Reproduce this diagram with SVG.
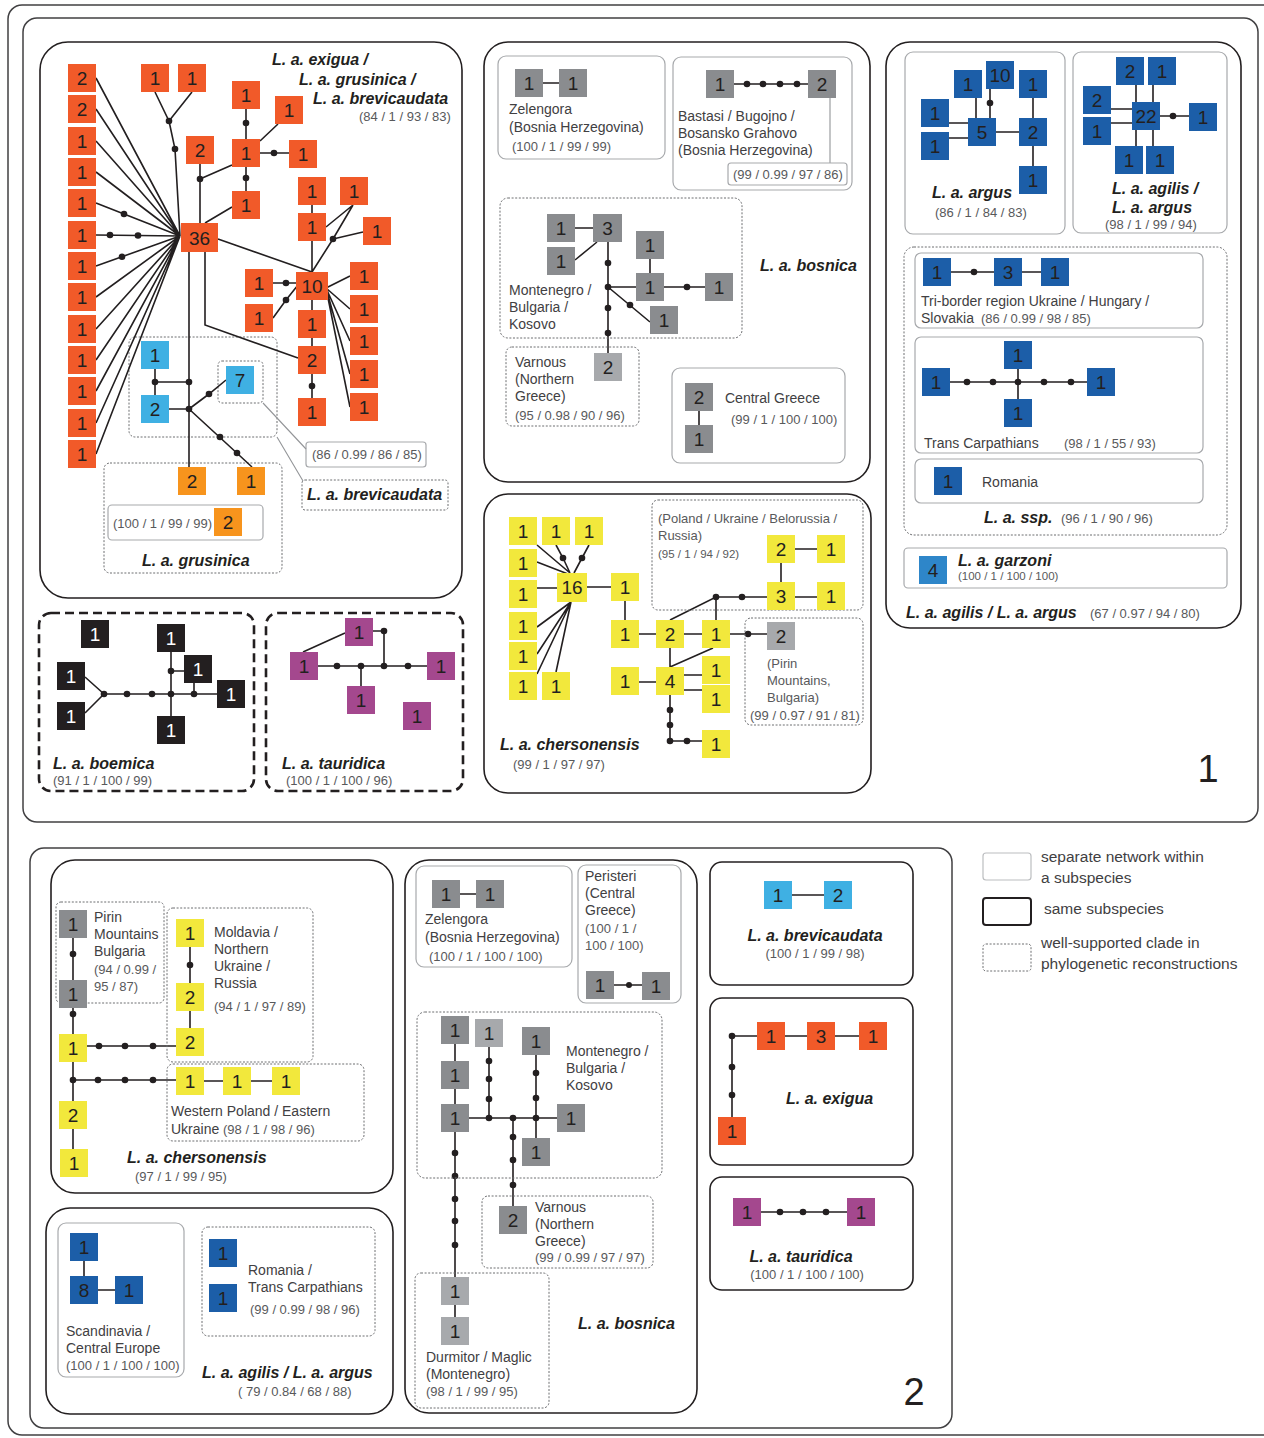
<svg xmlns="http://www.w3.org/2000/svg" width="1264" height="1438" viewBox="0 0 1264 1438">
<style>
text{font-family:"Liberation Sans",Arial,sans-serif}
.ln{stroke:#231f20;stroke-width:1.6;fill:none}
.gln{stroke:#939598;stroke-width:1.1;fill:none}
.dots circle{fill:#231f20}
.o{fill:#f15a29}.lo{fill:#f7941d}.lb{fill:#3fb0e3}.db{fill:#1c5ea8}.mb{fill:#2e86c9}.g{fill:#8a8c8f}.gl{fill:#a7a9ac}.y{fill:#f2e83c}.k{fill:#231f20}.p{fill:#a4488e}
.n{font-size:19px;text-anchor:middle;fill:#231f20}
.nw{fill:#ffffff}
.sp{font-size:16px;font-weight:bold;font-style:italic;fill:#231f20}
.lab{font-size:14px;fill:#414042}
.sup{font-size:13px;fill:#58595b}
.sm{font-size:11.5px;fill:#58595b}
.frame{fill:none;stroke:#414042;stroke-width:1.5}
.ss{fill:none;stroke:#231f20;stroke-width:1.6}
.sep{fill:none;stroke:#a7a9ac;stroke-width:1.2}
.cl{fill:none;stroke:#6d6e71;stroke-width:1;stroke-dasharray:2 1.6}
.dash{fill:none;stroke:#231f20;stroke-width:2.6;stroke-dasharray:9 5}
.leg{font-size:15.5px;fill:#414042}
.big{font-size:38px;fill:#231f20;text-anchor:middle}
</style>

<g id="frames">
<rect class="frame" x="8" y="5" width="1275" height="1430" rx="14"/>
<rect class="frame" x="23" y="18" width="1235" height="804" rx="14"/>
<rect class="frame" x="30" y="848" width="922" height="580" rx="14"/>
<text class="big" x="1208" y="782">1</text>
<text class="big" x="914" y="1405">2</text>
</g>

<g id="panelA">
<rect class="ss" x="40" y="42" width="422" height="556" rx="28"/>
<rect class="cl" x="129" y="337" width="148" height="100" rx="6"/>
<rect class="cl" x="218" y="361" width="45" height="42" rx="4"/>
<rect class="cl" x="104" y="463" width="178" height="110" rx="6"/>
<rect class="sep" x="108" y="505" width="155" height="35" rx="4"/>
<rect class="sep" x="306" y="442" width="120" height="25" rx="3"/>
<rect class="cl" x="302" y="480" width="146" height="30" rx="3"/>
<text class="sp" x="272" y="65">L. a. exigua /</text>
<text class="sp" x="299" y="85">L. a. grusinica /</text>
<text class="sp" x="313" y="104">L. a. brevicaudata</text>
<text class="sup" x="359" y="121">(84 / 1 / 93 / 83)</text>
<text class="sup" x="113" y="528">(100 / 1 / 99 / 99)</text>
<text class="sp" x="142" y="566">L. a. grusinica</text>
<text class="sup" x="312" y="459">(86 / 0.99 / 86 / 85)</text>
<text class="sp" x="307" y="500">L. a. brevicaudata</text>
</g>

<g id="connectors">
<path class="gln" d="M263 403L306 449M277 437L303 481M830 98V163"/>
<path class="ln" d="M96 78L180 236M96 109L180 236M96 141L180 236M96 172L180 236M96 203L180 236M96 235L180 236M96 266L180 236M96 297L180 236M96 329L180 236M96 360L180 236M96 391L180 236M96 423L180 236M96 454L180 236
M155 92L169 121L192 92M169 121L175 149L180 236
M200 164V223M200 179L232 165
M246 109V139M260 141L278 124M260 153H289M246 167V191M232 207L205 223
M218 239L312 272
M312 205V213M312 241V272M326 227L353 205M312 272L333 239L353 205M333 239L363 232
M273 283H298M273 318L286 300L298 285
M312 300V310M312 338V346M312 374V398
M326 288L350 276M326 288L350 309M326 288L350 341M326 288L350 374M326 288L350 407
M205 252V325L298 358
M189 252V467
M155 369V395M155 382H189M169 409H189M189 409L209 394L226 380M189 409L252 467"/>
<g class="dots">
<circle cx="124" cy="214" r="3.3"/><circle cx="110" cy="235" r="3.3"/><circle cx="138" cy="235.5" r="3.3"/><circle cx="122" cy="256.7" r="3.3"/>
<circle cx="169" cy="121" r="3.3"/><circle cx="175" cy="149" r="3.3"/><circle cx="200" cy="179" r="3.3"/>
<circle cx="246" cy="123" r="3.3"/><circle cx="274" cy="153" r="3.3"/><circle cx="246" cy="178" r="3.3"/>
<circle cx="333" cy="239" r="3.3"/><circle cx="286" cy="283" r="3.3"/><circle cx="286" cy="300" r="3.3"/><circle cx="312" cy="386" r="3.3"/>
<circle cx="189" cy="382" r="3.3"/><circle cx="189" cy="409" r="3.3"/><circle cx="155" cy="382" r="3.3"/><circle cx="209" cy="394" r="3.3"/><circle cx="220" cy="437" r="3.3"/><circle cx="237" cy="453" r="3.3"/>
</g>

<path class="ln" d="M543 83H559M734 84H808
M575 228H593M575 260L597 242M608 242V353M608 287H636M650 259V273M664 287H705M608 287L650 322
M699 411V425"/>
<g class="dots">
<circle cx="747" cy="84" r="3.3"/><circle cx="763" cy="84" r="3.3"/><circle cx="780" cy="84" r="3.3"/><circle cx="797" cy="84" r="3.3"/>
<circle cx="608" cy="263" r="3.3"/><circle cx="608" cy="287" r="3.3"/><circle cx="608" cy="308" r="3.3"/><circle cx="608" cy="333" r="3.3"/><circle cx="687" cy="287" r="3.3"/><circle cx="630" cy="305" r="3.3"/>
</g>

<path class="ln" d="M996 132H1019M976 98V118M990 89V118M949 123H968M949 138H968M1033 98V118M1033 146V166
M1136 85V102M1153 85V102M1111 109H1132M1111 123H1132M1136 130V146M1153 130V146M1160 116H1189
M951 272H994M1022 272H1041
M950 382H1087M1018 369V399"/>
<g class="dots">
<circle cx="990" cy="103" r="3.3"/><circle cx="1173" cy="116" r="3.3"/><circle cx="974" cy="272" r="3.3"/>
<circle cx="967" cy="382" r="3.3"/><circle cx="993" cy="382" r="3.3"/><circle cx="1018" cy="382" r="3.3"/><circle cx="1044" cy="382" r="3.3"/><circle cx="1071" cy="382" r="3.3"/>
</g>

<path class="ln" d="M104 694H217M85 677L104 694M85 713L104 694M171 652V716M171 671H184M194 694V682
M318 666H427M361 666V686M384 666V631M373 631H384M345 633L303 652"/>
<g class="dots">
<circle cx="104" cy="694" r="3.3"/><circle cx="127" cy="694" r="3.3"/><circle cx="152" cy="694" r="3.3"/><circle cx="171" cy="694" r="3.3"/><circle cx="194" cy="694" r="3.3"/><circle cx="171" cy="671" r="3.3"/>
<circle cx="337" cy="666" r="3.3"/><circle cx="361" cy="666" r="3.3"/><circle cx="384" cy="666" r="3.3"/><circle cx="408" cy="666" r="3.3"/><circle cx="384" cy="631" r="3.3"/>
</g>

<path class="ln" d="M537 545L570 573M556 545L563 558L570 573M589 545L582 558L574 573M537 562L568 574M537 588H557
M571 602L537 627M571 602L537 654M571 602L537 674M571 602L556 672
M587 587H611M625 601V620M639 634H656M684 634H702M670 620L716 597H767M716 597V620M781 563V582M795 549H817M795 597H817M730 634H767
M670 648V667M670 667L713 648M639 682H656M684 675H702M684 690H702M670 695V741H702"/>
<g class="dots">
<circle cx="563" cy="558" r="3.3"/><circle cx="582" cy="558" r="3.3"/><circle cx="716" cy="597" r="3.3"/><circle cx="742" cy="597" r="3.3"/><circle cx="748" cy="634" r="3.3"/>
<circle cx="670" cy="710" r="3.3"/><circle cx="670" cy="725" r="3.3"/><circle cx="670" cy="741" r="3.3"/><circle cx="687" cy="741" r="3.3"/>
</g>

<path class="ln" d="M73 938V980M73 1008V1034M73 1062V1101M73 1128V1149M87 1046H176M73 1080H176M204 1081H223M251 1081H272M190 947V983M190 1011V1028"/>
<g class="dots">
<circle cx="73" cy="954" r="3.3"/><circle cx="73" cy="1014" r="3.3"/><circle cx="73" cy="1080" r="3.3"/>
<circle cx="99" cy="1046" r="3.3"/><circle cx="125" cy="1046" r="3.3"/><circle cx="153" cy="1046" r="3.3"/>
<circle cx="98" cy="1080" r="3.3"/><circle cx="125" cy="1080" r="3.3"/><circle cx="153" cy="1080" r="3.3"/>
<circle cx="190" cy="965" r="3.3"/>
</g>

<path class="ln" d="M84 1261V1276M98 1290H115"/>

<path class="ln" d="M460 894H476M614 985H642
M455 1044V1061M455 1089V1104M455 1132V1277M455 1305V1317M469 1118H557M489 1047V1118M536 1055V1138M513 1118V1206"/>
<g class="dots">
<circle cx="629" cy="985" r="3"/>
<circle cx="455" cy="1153" r="3.3"/><circle cx="455" cy="1176" r="3.3"/><circle cx="455" cy="1199" r="3.3"/><circle cx="455" cy="1221" r="3.3"/><circle cx="455" cy="1245" r="3.3"/>
<circle cx="489" cy="1118" r="3.3"/><circle cx="513" cy="1118" r="3.3"/><circle cx="536" cy="1118" r="3.3"/>
<circle cx="489" cy="1061" r="3.3"/><circle cx="489" cy="1079" r="3.3"/><circle cx="489" cy="1099" r="3.3"/>
<circle cx="536" cy="1073" r="3.3"/><circle cx="536" cy="1098" r="3.3"/>
<circle cx="513" cy="1137" r="3.3"/><circle cx="513" cy="1160" r="3.3"/><circle cx="513" cy="1185" r="3.3"/>
</g>

<path class="ln" d="M792 895H824M732 1036H757M785 1036H807M835 1036H859M732 1036V1117M761 1212H847"/>
<g class="dots">
<circle cx="732" cy="1036" r="3.3"/><circle cx="732" cy="1067" r="3.3"/><circle cx="732" cy="1095" r="3.3"/>
<circle cx="780" cy="1212" r="3.3"/><circle cx="803" cy="1212" r="3.3"/><circle cx="826" cy="1212" r="3.3"/>
</g>
</g>

<g id="nodesA">
<g id="a_l1"><rect class="o" x="68" y="64" width="28" height="28"/><text class="n" x="82" y="85">2</text></g>
<g id="a_l2"><rect class="o" x="68" y="95" width="28" height="28"/><text class="n" x="82" y="116">2</text></g>
<g id="a_l3"><rect class="o" x="68" y="127" width="28" height="28"/><text class="n" x="82" y="148">1</text></g>
<g id="a_l4"><rect class="o" x="68" y="158" width="28" height="28"/><text class="n" x="82" y="179">1</text></g>
<g id="a_l5"><rect class="o" x="68" y="189" width="28" height="28"/><text class="n" x="82" y="210">1</text></g>
<g id="a_l6"><rect class="o" x="68" y="221" width="28" height="28"/><text class="n" x="82" y="242">1</text></g>
<g id="a_l7"><rect class="o" x="68" y="252" width="28" height="28"/><text class="n" x="82" y="273">1</text></g>
<g id="a_l8"><rect class="o" x="68" y="283" width="28" height="28"/><text class="n" x="82" y="304">1</text></g>
<g id="a_l9"><rect class="o" x="68" y="315" width="28" height="28"/><text class="n" x="82" y="336">1</text></g>
<g id="a_l10"><rect class="o" x="68" y="346" width="28" height="28"/><text class="n" x="82" y="367">1</text></g>
<g id="a_l11"><rect class="o" x="68" y="377" width="28" height="28"/><text class="n" x="82" y="398">1</text></g>
<g id="a_l12"><rect class="o" x="68" y="409" width="28" height="28"/><text class="n" x="82" y="430">1</text></g>
<g id="a_l13"><rect class="o" x="68" y="440" width="28" height="28"/><text class="n" x="82" y="461">1</text></g>
<g id="a_t1"><rect class="o" x="141" y="64" width="28" height="28"/><text class="n" x="155" y="85">1</text></g>
<g id="a_t2"><rect class="o" x="178" y="64" width="28" height="28"/><text class="n" x="192" y="85">1</text></g>
<g id="a_2a"><rect class="o" x="186" y="136" width="28" height="28"/><text class="n" x="200" y="157">2</text></g>
<g id="a_c0"><rect class="o" x="232" y="81" width="28" height="28"/><text class="n" x="246" y="102">1</text></g>
<g id="a_c1"><rect class="o" x="275" y="96" width="28" height="28"/><text class="n" x="289" y="117">1</text></g>
<g id="a_c2"><rect class="o" x="232" y="139" width="28" height="28"/><text class="n" x="246" y="160">1</text></g>
<g id="a_c3"><rect class="o" x="289" y="140" width="28" height="28"/><text class="n" x="303" y="161">1</text></g>
<g id="a_c4"><rect class="o" x="232" y="191" width="28" height="28"/><text class="n" x="246" y="212">1</text></g>
<g id="a_36"><rect class="o" x="181" y="223" width="37" height="29"/><text class="n" x="199.5" y="244.5">36</text></g>
<g id="a_u1"><rect class="o" x="298" y="177" width="28" height="28"/><text class="n" x="312" y="198">1</text></g>
<g id="a_u2"><rect class="o" x="340" y="177" width="28" height="28"/><text class="n" x="354" y="198">1</text></g>
<g id="a_u3"><rect class="o" x="298" y="213" width="28" height="28"/><text class="n" x="312" y="234">1</text></g>
<g id="a_u4"><rect class="o" x="363" y="217" width="28" height="28"/><text class="n" x="377" y="238">1</text></g>
<g id="a_10"><rect class="o" x="296" y="272" width="32" height="28"/><text class="n" x="312" y="293">10</text></g>
<g id="a_w1"><rect class="o" x="245" y="269" width="28" height="28"/><text class="n" x="259" y="290">1</text></g>
<g id="a_w2"><rect class="o" x="245" y="304" width="28" height="28"/><text class="n" x="259" y="325">1</text></g>
<g id="a_d1"><rect class="o" x="298" y="310" width="28" height="28"/><text class="n" x="312" y="331">1</text></g>
<g id="a_d2"><rect class="o" x="298" y="346" width="28" height="28"/><text class="n" x="312" y="367">2</text></g>
<g id="a_d3"><rect class="o" x="298" y="398" width="28" height="28"/><text class="n" x="312" y="419">1</text></g>
<g id="a_r1"><rect class="o" x="350" y="262" width="28" height="28"/><text class="n" x="364" y="283">1</text></g>
<g id="a_r2"><rect class="o" x="350" y="295" width="28" height="28"/><text class="n" x="364" y="316">1</text></g>
<g id="a_r3"><rect class="o" x="350" y="327" width="28" height="28"/><text class="n" x="364" y="348">1</text></g>
<g id="a_r4"><rect class="o" x="350" y="360" width="28" height="28"/><text class="n" x="364" y="381">1</text></g>
<g id="a_r5"><rect class="o" x="350" y="393" width="28" height="28"/><text class="n" x="364" y="414">1</text></g>
<g id="a_b1"><rect class="lb" x="141" y="341" width="28" height="28"/><text class="n" x="155" y="362">1</text></g>
<g id="a_b2"><rect class="lb" x="141" y="395" width="28" height="28"/><text class="n" x="155" y="416">2</text></g>
<g id="a_b7"><rect class="lb" x="226" y="366" width="28" height="28"/><text class="n" x="240" y="387">7</text></g>
<g id="a_g2"><rect class="lo" x="178" y="467" width="28" height="28"/><text class="n" x="192" y="488">2</text></g>
<g id="a_g1"><rect class="lo" x="237" y="467" width="28" height="28"/><text class="n" x="251" y="488">1</text></g>
<g id="a_g3"><rect class="lo" x="214" y="508" width="28" height="28"/><text class="n" x="228" y="529">2</text></g>
</g>

<g id="panelB">
<rect class="ss" x="484" y="42" width="386" height="440" rx="24"/>
<rect class="sep" x="498" y="56" width="167" height="103" rx="8"/>
<rect class="sep" x="673" y="57" width="179" height="133" rx="8"/>
<rect class="sep" x="728" y="163" width="119" height="22" rx="3"/>
<rect class="cl" x="500" y="198" width="242" height="140" rx="8"/>
<rect class="cl" x="506" y="347" width="133" height="79" rx="6"/>
<rect class="sep" x="672" y="368" width="173" height="95" rx="8"/>
<text class="lab" x="509" y="114">Zelengora</text>
<text class="lab" x="509" y="132">(Bosnia Herzegovina)</text>
<text class="sup" x="512" y="151">(100 / 1 / 99 / 99)</text>
<text class="lab" x="678" y="121">Bastasi / Bugojno /</text>
<text class="lab" x="678" y="138">Bosansko Grahovo</text>
<text class="lab" x="678" y="155">(Bosnia Herzegovina)</text>
<text class="sup" x="733" y="179">(99 / 0.99 / 97 / 86)</text>
<text class="lab" x="509" y="295">Montenegro /</text>
<text class="lab" x="509" y="312">Bulgaria /</text>
<text class="lab" x="509" y="329">Kosovo</text>
<text class="lab" x="515" y="367">Varnous</text>
<text class="lab" x="515" y="384">(Northern</text>
<text class="lab" x="515" y="401">Greece)</text>
<text class="sup" x="515" y="420">(95 / 0.98 / 90 / 96)</text>
<text class="sp" x="760" y="271">L. a. bosnica</text>
<text class="lab" x="725" y="403">Central Greece</text>
<text class="sup" x="731" y="424">(99 / 1 / 100 / 100)</text>
<g id="b_z1"><rect class="g" x="515" y="69" width="28" height="28"/><text class="n" x="529" y="90">1</text></g>
<g id="b_z2"><rect class="g" x="559" y="69" width="28" height="28"/><text class="n" x="573" y="90">1</text></g>
<g id="b_ba1"><rect class="g" x="706" y="70" width="28" height="28"/><text class="n" x="720" y="91">1</text></g>
<g id="b_ba2"><rect class="g" x="808" y="70" width="28" height="28"/><text class="n" x="822" y="91">2</text></g>
<g id="b_m1"><rect class="g" x="547" y="214" width="28" height="28"/><text class="n" x="561" y="235">1</text></g>
<g id="b_m3"><rect class="g" x="593" y="214" width="29" height="28"/><text class="n" x="607.5" y="235">3</text></g>
<g id="b_m2"><rect class="g" x="547" y="247" width="28" height="28"/><text class="n" x="561" y="268">1</text></g>
<g id="b_m4"><rect class="g" x="636" y="231" width="28" height="28"/><text class="n" x="650" y="252">1</text></g>
<g id="b_m5"><rect class="g" x="636" y="273" width="28" height="28"/><text class="n" x="650" y="294">1</text></g>
<g id="b_m6"><rect class="g" x="705" y="273" width="28" height="28"/><text class="n" x="719" y="294">1</text></g>
<g id="b_m7"><rect class="g" x="650" y="306" width="28" height="28"/><text class="n" x="664" y="327">1</text></g>
<g id="b_v2"><rect class="gl" x="594" y="353" width="28" height="28"/><text class="n" x="608" y="374">2</text></g>
<g id="b_cg2"><rect class="g" x="685" y="383" width="28" height="28"/><text class="n" x="699" y="404">2</text></g>
<g id="b_cg1"><rect class="g" x="685" y="425" width="28" height="28"/><text class="n" x="699" y="446">1</text></g>
</g>

<g id="panelC">
<rect class="ss" x="886" y="42" width="355" height="586" rx="24"/>
<rect class="sep" x="905" y="52" width="160" height="182" rx="8"/>
<rect class="sep" x="1073" y="52" width="154" height="181" rx="8"/>
<rect class="cl" x="904" y="247" width="323" height="288" rx="10"/>
<rect class="sep" x="915" y="253" width="288" height="75" rx="6"/>
<rect class="sep" x="915" y="337" width="288" height="116" rx="6"/>
<rect class="sep" x="915" y="459" width="288" height="44" rx="6"/>
<rect class="sep" x="904" y="548" width="323" height="40" rx="4"/>
<text class="sp" x="932" y="198">L. a. argus</text>
<text class="sup" x="935" y="217">(86 / 1 / 84 / 83)</text>
<text class="sp" x="1112" y="194">L. a. agilis /</text>
<text class="sp" x="1112" y="213">L. a. argus</text>
<text class="sup" x="1105" y="229">(98 / 1 / 99 / 94)</text>
<text class="lab" x="921" y="306">Tri-border region Ukraine / Hungary /</text>
<text class="lab" x="921" y="323">Slovakia</text>
<text class="sup" x="981" y="323">(86 / 0.99 / 98 / 85)</text>
<text class="lab" x="924" y="448">Trans Carpathians</text>
<text class="sup" x="1064" y="448">(98 / 1 / 55 / 93)</text>
<text class="lab" x="982" y="487">Romania</text>
<text class="sp" x="984" y="523">L. a. ssp.</text>
<text class="sup" x="1061" y="523">(96 / 1 / 90 / 96)</text>
<text class="sp" x="958" y="566">L. a. garzoni</text>
<text class="sm" x="958" y="580">(100 / 1 / 100 / 100)</text>
<text class="sp" x="906" y="618">L. a. agilis / L. a. argus</text>
<text class="sup" x="1090" y="618">(67 / 0.97 / 94 / 80)</text>
<g id="c_10"><rect class="db" x="986" y="61" width="28" height="28"/><text class="n" x="1000" y="82">10</text></g>
<g id="c_a1"><rect class="db" x="954" y="70" width="28" height="28"/><text class="n" x="968" y="91">1</text></g>
<g id="c_a2"><rect class="db" x="1019" y="70" width="28" height="28"/><text class="n" x="1033" y="91">1</text></g>
<g id="c_a3"><rect class="db" x="921" y="99" width="28" height="28"/><text class="n" x="935" y="120">1</text></g>
<g id="c_5"><rect class="db" x="968" y="118" width="28" height="28"/><text class="n" x="982" y="139">5</text></g>
<g id="c_2"><rect class="db" x="1019" y="118" width="28" height="28"/><text class="n" x="1033" y="139">2</text></g>
<g id="c_a7"><rect class="db" x="921" y="132" width="28" height="28"/><text class="n" x="935" y="153">1</text></g>
<g id="c_a8"><rect class="db" x="1019" y="166" width="28" height="28"/><text class="n" x="1033" y="187">1</text></g>
<g id="c_b1"><rect class="db" x="1116" y="57" width="28" height="28"/><text class="n" x="1130" y="78">2</text></g>
<g id="c_b2"><rect class="db" x="1148" y="57" width="28" height="28"/><text class="n" x="1162" y="78">1</text></g>
<g id="c_b3"><rect class="db" x="1083" y="86" width="28" height="28"/><text class="n" x="1097" y="107">2</text></g>
<g id="c_b4"><rect class="db" x="1083" y="117" width="28" height="28"/><text class="n" x="1097" y="138">1</text></g>
<g id="c_22"><rect class="db" x="1132" y="102" width="28" height="28"/><text class="n" x="1146" y="123">22</text></g>
<g id="c_b5"><rect class="db" x="1189" y="103" width="28" height="28"/><text class="n" x="1203" y="124">1</text></g>
<g id="c_b6"><rect class="db" x="1115" y="146" width="28" height="28"/><text class="n" x="1129" y="167">1</text></g>
<g id="c_b7"><rect class="db" x="1146" y="146" width="28" height="28"/><text class="n" x="1160" y="167">1</text></g>
<g id="c_t1"><rect class="db" x="923" y="258" width="28" height="28"/><text class="n" x="937" y="279">1</text></g>
<g id="c_t3"><rect class="db" x="994" y="258" width="28" height="28"/><text class="n" x="1008" y="279">3</text></g>
<g id="c_t2"><rect class="db" x="1041" y="258" width="28" height="28"/><text class="n" x="1055" y="279">1</text></g>
<g id="c_tc1"><rect class="db" x="1004" y="341" width="28" height="28"/><text class="n" x="1018" y="362">1</text></g>
<g id="c_tc2"><rect class="db" x="922" y="368" width="28" height="28"/><text class="n" x="936" y="389">1</text></g>
<g id="c_tc3"><rect class="db" x="1087" y="368" width="28" height="28"/><text class="n" x="1101" y="389">1</text></g>
<g id="c_tc4"><rect class="db" x="1004" y="399" width="28" height="28"/><text class="n" x="1018" y="420">1</text></g>
<g id="c_ro"><rect class="db" x="934" y="467" width="28" height="28"/><text class="n" x="948" y="488">1</text></g>
<g id="c_gz"><rect class="mb" x="919" y="556" width="28" height="28"/><text class="n" x="933" y="577">4</text></g>
</g>

<g id="panelD">
<rect class="dash" x="39" y="613" width="215" height="178" rx="12"/>
<text class="sp" x="53" y="769">L. a. boemica</text>
<text class="sup" x="53" y="785">(91 / 1 / 100 / 99)</text>
<g id="d_1"><rect class="k" x="81" y="620" width="28" height="28"/><text class="n nw" x="95" y="641">1</text></g>
<g id="d_2"><rect class="k" x="157" y="624" width="28" height="28"/><text class="n nw" x="171" y="645">1</text></g>
<g id="d_3"><rect class="k" x="184" y="655" width="28" height="28"/><text class="n nw" x="198" y="676">1</text></g>
<g id="d_4"><rect class="k" x="57" y="662" width="28" height="28"/><text class="n nw" x="71" y="683">1</text></g>
<g id="d_5"><rect class="k" x="217" y="680" width="28" height="28"/><text class="n nw" x="231" y="701">1</text></g>
<g id="d_6"><rect class="k" x="57" y="702" width="28" height="28"/><text class="n nw" x="71" y="723">1</text></g>
<g id="d_7"><rect class="k" x="157" y="716" width="28" height="28"/><text class="n nw" x="171" y="737">1</text></g>
</g>

<g id="panelE">
<rect class="dash" x="266" y="613" width="197" height="178" rx="12"/>
<text class="sp" x="282" y="769">L. a. tauridica</text>
<text class="sup" x="286" y="785">(100 / 1 / 100 / 96)</text>
<g id="e_1"><rect class="p" x="345" y="618" width="28" height="28"/><text class="n" x="359" y="639">1</text></g>
<g id="e_2"><rect class="p" x="290" y="652" width="28" height="28"/><text class="n" x="304" y="673">1</text></g>
<g id="e_3"><rect class="p" x="427" y="652" width="28" height="28"/><text class="n" x="441" y="673">1</text></g>
<g id="e_4"><rect class="p" x="347" y="686" width="28" height="28"/><text class="n" x="361" y="707">1</text></g>
<g id="e_5"><rect class="p" x="403" y="702" width="28" height="28"/><text class="n" x="417" y="723">1</text></g>
</g>

<g id="panelF">
<rect class="ss" x="484" y="494" width="387" height="299" rx="24"/>
<rect class="cl" x="652" y="500" width="211" height="110" rx="6"/>
<rect class="cl" x="745" y="618" width="118" height="107" rx="6"/>
<text class="sup" x="658" y="523">(Poland / Ukraine / Belorussia /</text>
<text class="sup" x="658" y="540">Russia)</text>
<text class="sm" x="658" y="558">(95 / 1 / 94 / 92)</text>
<text class="sup" x="767" y="668">(Pirin</text>
<text class="sup" x="767" y="685">Mountains,</text>
<text class="sup" x="767" y="702">Bulgaria)</text>
<text class="sup" x="750" y="720">(99 / 0.97 / 91 / 81)</text>
<text class="sp" x="500" y="750">L. a. chersonensis</text>
<text class="sup" x="513" y="769">(99 / 1 / 97 / 97)</text>
<g id="f_1"><rect class="y" x="509" y="517" width="28" height="28"/><text class="n" x="523" y="538">1</text></g>
<g id="f_2"><rect class="y" x="542" y="517" width="28" height="28"/><text class="n" x="556" y="538">1</text></g>
<g id="f_3"><rect class="y" x="575" y="517" width="28" height="28"/><text class="n" x="589" y="538">1</text></g>
<g id="f_4"><rect class="y" x="509" y="549" width="28" height="28"/><text class="n" x="523" y="570">1</text></g>
<g id="f_16"><rect class="y" x="557" y="573" width="30" height="29"/><text class="n" x="572" y="594">16</text></g>
<g id="f_5"><rect class="y" x="509" y="580" width="28" height="28"/><text class="n" x="523" y="601">1</text></g>
<g id="f_6"><rect class="y" x="611" y="573" width="28" height="28"/><text class="n" x="625" y="594">1</text></g>
<g id="f_7"><rect class="y" x="509" y="612" width="28" height="28"/><text class="n" x="523" y="633">1</text></g>
<g id="f_8"><rect class="y" x="611" y="620" width="28" height="28"/><text class="n" x="625" y="641">1</text></g>
<g id="f_9"><rect class="y" x="656" y="620" width="28" height="28"/><text class="n" x="670" y="641">2</text></g>
<g id="f_10"><rect class="y" x="702" y="620" width="28" height="28"/><text class="n" x="716" y="641">1</text></g>
<g id="f_11"><rect class="y" x="509" y="642" width="28" height="28"/><text class="n" x="523" y="663">1</text></g>
<g id="f_12"><rect class="y" x="702" y="656" width="28" height="28"/><text class="n" x="716" y="677">1</text></g>
<g id="f_13"><rect class="y" x="509" y="672" width="28" height="28"/><text class="n" x="523" y="693">1</text></g>
<g id="f_14"><rect class="y" x="542" y="672" width="28" height="28"/><text class="n" x="556" y="693">1</text></g>
<g id="f_15"><rect class="y" x="611" y="667" width="28" height="28"/><text class="n" x="625" y="688">1</text></g>
<g id="f_4b"><rect class="y" x="656" y="667" width="28" height="28"/><text class="n" x="670" y="688">4</text></g>
<g id="f_17"><rect class="y" x="702" y="685" width="28" height="28"/><text class="n" x="716" y="706">1</text></g>
<g id="f_18"><rect class="y" x="702" y="730" width="28" height="28"/><text class="n" x="716" y="751">1</text></g>
<g id="f_19"><rect class="y" x="767" y="535" width="28" height="28"/><text class="n" x="781" y="556">2</text></g>
<g id="f_20"><rect class="y" x="817" y="535" width="28" height="28"/><text class="n" x="831" y="556">1</text></g>
<g id="f_21"><rect class="y" x="767" y="582" width="28" height="28"/><text class="n" x="781" y="603">3</text></g>
<g id="f_22"><rect class="y" x="817" y="582" width="28" height="28"/><text class="n" x="831" y="603">1</text></g>
<g id="f_pg"><rect class="gl" x="767" y="622" width="28" height="28"/><text class="n" x="781" y="643">2</text></g>
</g>

<g id="panelG">
<rect class="ss" x="51" y="860" width="342" height="333" rx="24"/>
<rect class="cl" x="56" y="902" width="108" height="101" rx="5"/>
<rect class="cl" x="167" y="908" width="146" height="154" rx="6"/>
<rect class="cl" x="167" y="1064" width="197" height="77" rx="6"/>
<text class="lab" x="94" y="922">Pirin</text>
<text class="lab" x="94" y="939">Mountains</text>
<text class="lab" x="94" y="956">Bulgaria</text>
<text class="sup" x="94" y="974">(94 / 0.99 /</text>
<text class="sup" x="94" y="991">95 / 87)</text>
<text class="lab" x="214" y="937">Moldavia /</text>
<text class="lab" x="214" y="954">Northern</text>
<text class="lab" x="214" y="971">Ukraine /</text>
<text class="lab" x="214" y="988">Russia</text>
<text class="sup" x="214" y="1011">(94 / 1 / 97 / 89)</text>
<text class="lab" x="171" y="1116">Western Poland / Eastern</text>
<text class="lab" x="171" y="1134">Ukraine</text>
<text class="sup" x="223" y="1134">(98 / 1 / 98 / 96)</text>
<text class="sp" x="127" y="1163">L. a. chersonensis</text>
<text class="sup" x="135" y="1181">(97 / 1 / 99 / 95)</text>
<g id="g_p1"><rect class="g" x="59" y="910" width="28" height="28"/><text class="n" x="73" y="931">1</text></g>
<g id="g_p2"><rect class="g" x="59" y="980" width="28" height="28"/><text class="n" x="73" y="1001">1</text></g>
<g id="g_c1"><rect class="y" x="176" y="919" width="28" height="28"/><text class="n" x="190" y="940">1</text></g>
<g id="g_c2"><rect class="y" x="176" y="983" width="28" height="28"/><text class="n" x="190" y="1004">2</text></g>
<g id="g_c3"><rect class="y" x="176" y="1028" width="28" height="28"/><text class="n" x="190" y="1049">2</text></g>
<g id="g_c4"><rect class="y" x="59" y="1034" width="28" height="28"/><text class="n" x="73" y="1055">1</text></g>
<g id="g_c5"><rect class="y" x="176" y="1067" width="28" height="28"/><text class="n" x="190" y="1088">1</text></g>
<g id="g_c6"><rect class="y" x="223" y="1067" width="28" height="28"/><text class="n" x="237" y="1088">1</text></g>
<g id="g_c7"><rect class="y" x="272" y="1067" width="28" height="28"/><text class="n" x="286" y="1088">1</text></g>
<g id="g_c8"><rect class="y" x="59" y="1101" width="28" height="28"/><text class="n" x="73" y="1122">2</text></g>
<g id="g_c9"><rect class="y" x="60" y="1149" width="28" height="28"/><text class="n" x="74" y="1170">1</text></g>
</g>

<g id="panelH">
<rect class="ss" x="46" y="1208" width="347" height="206" rx="24"/>
<rect class="sep" x="58" y="1223" width="126" height="154" rx="8"/>
<rect class="cl" x="202" y="1227" width="173" height="109" rx="6"/>
<text class="lab" x="66" y="1336">Scandinavia /</text>
<text class="lab" x="66" y="1353">Central Europe</text>
<text class="sup" x="66" y="1370">(100 / 1 / 100 / 100)</text>
<text class="lab" x="248" y="1275">Romania /</text>
<text class="lab" x="248" y="1292">Trans Carpathians</text>
<text class="sup" x="250" y="1314">(99 / 0.99 / 98 / 96)</text>
<text class="sp" x="202" y="1378">L. a. agilis / L. a. argus</text>
<text class="sup" x="238" y="1396">( 79 / 0.84 / 68 / 88)</text>
<g id="h_s1"><rect class="db" x="70" y="1233" width="28" height="28"/><text class="n" x="84" y="1254">1</text></g>
<g id="h_s8"><rect class="db" x="70" y="1276" width="28" height="28"/><text class="n" x="84" y="1297">8</text></g>
<g id="h_s2"><rect class="db" x="115" y="1276" width="28" height="28"/><text class="n" x="129" y="1297">1</text></g>
<g id="h_r1"><rect class="db" x="209" y="1239" width="28" height="28"/><text class="n" x="223" y="1260">1</text></g>
<g id="h_r2"><rect class="db" x="209" y="1284" width="28" height="28"/><text class="n" x="223" y="1305">1</text></g>
</g>

<g id="panelI">
<rect class="ss" x="405" y="860" width="292" height="553" rx="24"/>
<rect class="sep" x="416" y="866" width="156" height="101" rx="8"/>
<rect class="sep" x="578" y="865" width="103" height="138" rx="8"/>
<rect class="cl" x="417" y="1012" width="245" height="166" rx="8"/>
<rect class="cl" x="482" y="1196" width="171" height="72" rx="6"/>
<rect class="cl" x="415" y="1273" width="134" height="135" rx="6"/>
<text class="lab" x="425" y="924">Zelengora</text>
<text class="lab" x="425" y="942">(Bosnia Herzegovina)</text>
<text class="sup" x="429" y="961">(100 / 1 / 100 / 100)</text>
<text class="lab" x="585" y="881">Peristeri</text>
<text class="lab" x="585" y="898">(Central</text>
<text class="lab" x="585" y="915">Greece)</text>
<text class="sup" x="585" y="933">(100 / 1 /</text>
<text class="sup" x="585" y="950">100 / 100)</text>
<text class="lab" x="566" y="1056">Montenegro /</text>
<text class="lab" x="566" y="1073">Bulgaria /</text>
<text class="lab" x="566" y="1090">Kosovo</text>
<text class="lab" x="535" y="1212">Varnous</text>
<text class="lab" x="535" y="1229">(Northern</text>
<text class="lab" x="535" y="1246">Greece)</text>
<text class="sup" x="535" y="1262">(99 / 0.99 / 97 / 97)</text>
<text class="lab" x="426" y="1362">Durmitor / Maglic</text>
<text class="lab" x="426" y="1379">(Montenegro)</text>
<text class="sup" x="426" y="1396">(98 / 1 / 99 / 95)</text>
<text class="sp" x="578" y="1329">L. a. bosnica</text>
<g id="i_z1"><rect class="g" x="432" y="880" width="28" height="28"/><text class="n" x="446" y="901">1</text></g>
<g id="i_z2"><rect class="g" x="476" y="880" width="28" height="28"/><text class="n" x="490" y="901">1</text></g>
<g id="i_p1"><rect class="g" x="586" y="971" width="28" height="28"/><text class="n" x="600" y="992">1</text></g>
<g id="i_p2"><rect class="g" x="642" y="972" width="28" height="28"/><text class="n" x="656" y="993">1</text></g>
<g id="i_m1"><rect class="g" x="441" y="1016" width="28" height="28"/><text class="n" x="455" y="1037">1</text></g>
<g id="i_m2"><rect class="gl" x="475" y="1019" width="28" height="28"/><text class="n" x="489" y="1040">1</text></g>
<g id="i_m3"><rect class="g" x="522" y="1027" width="28" height="28"/><text class="n" x="536" y="1048">1</text></g>
<g id="i_m4"><rect class="g" x="441" y="1061" width="28" height="28"/><text class="n" x="455" y="1082">1</text></g>
<g id="i_m5"><rect class="g" x="441" y="1104" width="28" height="28"/><text class="n" x="455" y="1125">1</text></g>
<g id="i_m6"><rect class="g" x="557" y="1104" width="28" height="28"/><text class="n" x="571" y="1125">1</text></g>
<g id="i_m7"><rect class="g" x="522" y="1138" width="28" height="28"/><text class="n" x="536" y="1159">1</text></g>
<g id="i_v2"><rect class="g" x="499" y="1206" width="28" height="28"/><text class="n" x="513" y="1227">2</text></g>
<g id="i_d1"><rect class="gl" x="441" y="1277" width="28" height="28"/><text class="n" x="455" y="1298">1</text></g>
<g id="i_d2"><rect class="gl" x="441" y="1317" width="28" height="28"/><text class="n" x="455" y="1338">1</text></g>
</g>

<g id="panelJ">
<rect class="ss" x="710" y="862" width="203" height="123" rx="12"/>
<text class="sp" x="815" y="941" text-anchor="middle">L. a. brevicaudata</text>
<text class="sup" x="815" y="958" text-anchor="middle">(100 / 1 / 99 / 98)</text>
<g id="j_b1"><rect class="lb" x="764" y="881" width="28" height="28"/><text class="n" x="778" y="902">1</text></g>
<g id="j_b2"><rect class="lb" x="824" y="881" width="28" height="28"/><text class="n" x="838" y="902">2</text></g>
</g>
<g id="panelK">
<rect class="ss" x="710" y="998" width="203" height="167" rx="12"/>
<text class="sp" x="786" y="1104">L. a. exigua</text>
<g id="k_1"><rect class="o" x="757" y="1022" width="28" height="28"/><text class="n" x="771" y="1043">1</text></g>
<g id="k_3"><rect class="o" x="807" y="1022" width="28" height="28"/><text class="n" x="821" y="1043">3</text></g>
<g id="k_2"><rect class="o" x="859" y="1022" width="28" height="28"/><text class="n" x="873" y="1043">1</text></g>
<g id="k_4"><rect class="o" x="718" y="1117" width="28" height="28"/><text class="n" x="732" y="1138">1</text></g>
</g>
<g id="panelL">
<rect class="ss" x="710" y="1177" width="203" height="113" rx="12"/>
<text class="sp" x="801" y="1262" text-anchor="middle">L. a. tauridica</text>
<text class="sup" x="807" y="1279" text-anchor="middle">(100 / 1 / 100 / 100)</text>
<g id="l_1"><rect class="p" x="733" y="1198" width="28" height="28"/><text class="n" x="747" y="1219">1</text></g>
<g id="l_2"><rect class="p" x="847" y="1198" width="28" height="28"/><text class="n" x="861" y="1219">1</text></g>
</g>

<g id="legend">
<rect x="983" y="853" width="48" height="27" rx="3" fill="none" stroke="#bcbec0" stroke-width="1.2"/>
<rect x="983" y="898" width="48" height="27" rx="3" fill="none" stroke="#231f20" stroke-width="2"/>
<rect x="983" y="944" width="48" height="27" rx="3" class="cl"/>
<text class="leg" x="1041" y="862">separate network within</text>
<text class="leg" x="1041" y="883">a subspecies</text>
<text class="leg" x="1044" y="914">same subspecies</text>
<text class="leg" x="1041" y="948">well-supported clade in</text>
<text class="leg" x="1041" y="969">phylogenetic reconstructions</text>
</g>
</svg>
